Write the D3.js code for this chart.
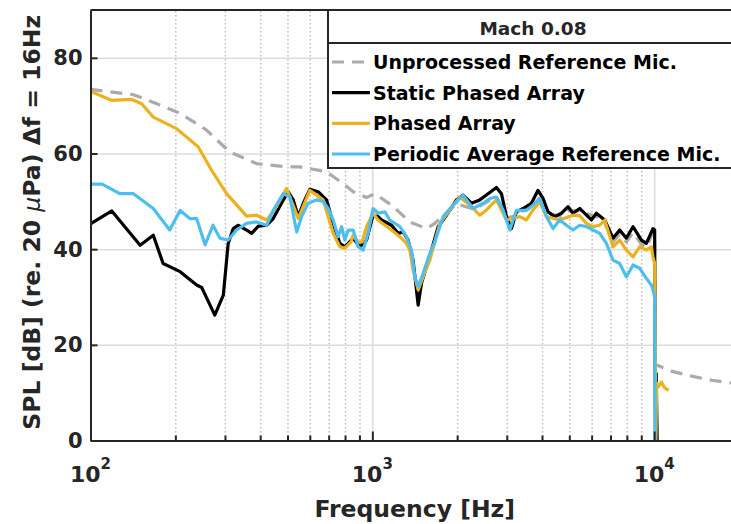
<!DOCTYPE html>
<html>

<head>
    <meta charset="utf-8" />
    <script src="https://d3js.org/d3.v7.min.js"></script>
    <style>
        body { margin: 0; background: #fff; }
        text { font-family: "DejaVu Sans", "Liberation Sans", Arial, sans-serif; font-weight: bold; fill: #262626; }
        .grid-major line { stroke: #dcdcdc; stroke-width: 1.5; }
        .grid-minor line { stroke: #bdbdbd; stroke-width: 1.5; stroke-dasharray: 1.5, 2.5; }
        .grid-major path, .grid-minor path { display: none; }
        .axis path, .axis line { stroke: #262626; stroke-width: 2; }
    </style>
</head>

<body>
    <script>
        // ---- data: [frequency Hz, SPL dB] ----
        const unprocessedRef = [
            [100, 73.4], [142, 72.3], [172, 70.4], [208, 68.4], [258, 64.9], [312, 60.3], [388, 57.9],
            [496, 57.2], [553, 57.2], [688, 56.2], [788, 53.7], [855, 52], [954, 50.8], [1021, 51.6],
            [1170, 49.2], [1358, 45.7], [1557, 44.3], [1666, 45.4], [1833, 47.5], [1989, 49.5],
            [2248, 48.5], [2405, 49], [2756, 51], [2991, 46.5], [3246, 47], [3426, 48], [3871, 50.5],
            [4202, 47.5], [4687, 46.8], [4948, 48], [5442, 48], [6237, 46.8], [6676, 45.5], [7144, 41.5],
            [7546, 43.2], [7968, 41.5], [8413, 43.5], [9010, 41], [9383, 40.3], [9901, 43.5], [10041, 42],
            [10080, 16], [10200, 15.8], [11500, 14.5], [13700, 13.4], [16000, 12.6], [20000, 11.8]
        ];

        const staticArray = [
            [100, 45.3], [119, 48], [150, 40.8], [167, 42.9], [181, 37], [208, 35.3], [238, 32.5], [248, 32],
            [276, 26.2], [296, 30.4], [308, 41.2], [321, 44.3], [334, 45], [358, 44], [373, 43.3], [394, 44.8],
            [422, 45], [445, 46.4], [476, 49.6], [503, 52], [524, 50.3], [546, 46.8], [569, 49.6], [600, 52.5],
            [642, 52], [688, 50.3], [726, 45.4], [767, 41.2], [799, 40.5], [855, 42.3], [903, 40.5], [954, 41.9],
            [1006, 47.1], [1048, 46.8], [1078, 46.1], [1170, 45], [1235, 43.3], [1286, 43.6], [1340, 41.9],
            [1395, 37.7], [1454, 28.3], [1495, 32.9], [1557, 36.3], [1622, 39.8], [1712, 44.7], [1833, 47.1],
            [1989, 50.3], [2099, 51.3], [2248, 49.6], [2405, 50.3], [2574, 51.6], [2756, 52.9], [2872, 51.6],
            [2991, 46.8], [3116, 44.3], [3246, 47.8], [3426, 48.5], [3669, 49.6], [3871, 52.3], [4034, 50.6],
            [4202, 47.8], [4438, 46.8], [4687, 47.5], [4948, 48.9], [5152, 47.5], [5442, 48.5], [5669, 47.5],
            [5989, 46.1], [6237, 47.5], [6676, 46.1], [7144, 42.3], [7546, 44], [7968, 42.3], [8413, 44.7],
            [9010, 41.9], [9383, 41.2], [9901, 44.3], [10041, 44], [10110, -5], [10170, 14], [10230, 3], [10280, -5]
        ];

        const phasedArray = [
            [100, 73], [119, 71.1], [140, 71.3], [152, 70.4], [167, 67.6], [202, 65.2], [241, 61.4], [269, 56.5],
            [304, 51.6], [358, 46.9], [388, 47.1], [422, 46.1], [457, 48.9], [496, 52.7], [546, 46.4], [600, 52.3],
            [669, 50.3], [726, 43.3], [767, 40.5], [799, 40.2], [840, 41.5], [855, 42.9], [890, 41.5], [920, 41.5],
            [954, 44.7], [1006, 47.5], [1048, 46.1], [1107, 45], [1170, 44], [1252, 42.6], [1322, 41.2], [1358, 39.8],
            [1395, 35.6], [1454, 31.5], [1514, 34.2], [1600, 37.7], [1736, 45.4], [1883, 48.2], [2043, 50.9],
            [2217, 49.2], [2405, 47.1], [2541, 48.2], [2756, 50.3], [2991, 46.1], [3334, 46.8], [3523, 46.1],
            [3717, 48.2], [3927, 49.9], [4147, 46.8], [4623, 46.1], [5152, 47.1], [5442, 47], [5750, 45.4],
            [6067, 44.7], [6410, 45], [6676, 46.1], [7144, 40.5], [7546, 41.9], [7968, 39.8], [8413, 38.4],
            [8884, 40.5], [9383, 39.8], [9772, 40.5], [9901, 38.4], [10041, 37], [10150, 0], [10200, 12],
            [10350, 11.2], [10600, 12.2], [10900, 11], [11250, 10.5]
        ];

        const periodicAvgRef = [
            [100, 53.6], [110, 53.6], [127, 51.6], [142, 51.6], [167, 48.5], [191, 44], [208, 48.1], [225, 46.4],
            [238, 46.4], [255, 40.9], [272, 45], [288, 42.3], [308, 41.9], [330, 44], [358, 45.4], [388, 45.7],
            [422, 45], [445, 48.1], [483, 51.6], [510, 50.9], [539, 43.6], [561, 46.8], [592, 49.6], [634, 50.3],
            [669, 50], [697, 48.5], [726, 46.1], [756, 42.6], [778, 44.7], [799, 41.9], [821, 44], [855, 44],
            [891, 40.5], [928, 39.8], [966, 43.3], [1006, 48.5], [1049, 47.5], [1108, 47.8], [1153, 46.1],
            [1252, 44.7], [1322, 42.6], [1377, 39.8], [1415, 34.2], [1454, 32.2], [1514, 34.9], [1600, 39.1],
            [1666, 41.5], [1783, 46.8], [1934, 49.2], [2099, 51.3], [2278, 48.5], [2471, 49.6], [2611, 50.6],
            [2756, 50.9], [2910, 48.2], [3074, 44], [3246, 48.1], [3523, 48.1], [3717, 49.2], [3927, 50.6],
            [4147, 46.8], [4377, 44.3], [4623, 46.1], [4883, 45], [5152, 44], [5442, 45], [5750, 44.7],
            [6067, 44], [6410, 43.3], [6770, 41.2], [7144, 37.7], [7546, 37], [7968, 34.2], [8413, 36.7],
            [8884, 36], [9383, 33.9], [9772, 32.5], [9901, 31.5], [10041, 30], [10100, -5]
        ];

        const legendLabels = ['Unprocessed Reference Mic.', 'Static Phased Array', 'Phased Array', 'Periodic Average Reference Mic.'];
        const legendTitle = 'Mach 0.08';
        const yTicks = [0, 20, 40, 60, 80];
        const xDecades = [100, 1000, 10000];
        const xMinor = [200, 300, 400, 500, 600, 700, 800, 900, 2000, 3000, 4000, 5000, 6000, 7000, 8000, 9000];

        // ---- layout ----
        const width = 731;
        const height = 524;
        const plot = { left: 90.5, top: 10, right: 739, bottom: 440.5 };

        const svg = d3.select('body')
            .append('svg')
            .attr('width', width)
            .attr('height', height);

        const x = d3.scaleLog().domain([100, 20000]).range([plot.left, plot.right]);
        const y = d3.scaleLinear().domain([0, 90]).range([plot.bottom, plot.top]);
        const plotH = plot.bottom - plot.top;

        // grid
        svg.append('g')
            .attr('class', 'grid-minor')
            .attr('transform', `translate(0,${plot.bottom})`)
            .call(d3.axisBottom(x).tickValues(xMinor).tickSize(-plotH).tickFormat(''));
        svg.append('g')
            .attr('class', 'grid-major')
            .attr('transform', `translate(0,${plot.bottom})`)
            .call(d3.axisBottom(x).tickValues(xDecades.slice(1)).tickSize(-plotH).tickFormat(''));
        svg.append('g')
            .attr('class', 'grid-major')
            .attr('transform', `translate(${plot.left},0)`)
            .call(d3.axisLeft(y).tickValues(yTicks.slice(1)).tickSize(-(plot.right - plot.left)).tickFormat(''));

        // data lines
        svg.append('clipPath').attr('id', 'clip')
            .append('rect')
            .attr('x', plot.left).attr('y', plot.top)
            .attr('width', plot.right - plot.left).attr('height', plotH);

        const line = d3.line().x(d => x(d[0])).y(d => y(d[1]));
        const series = [
            { data: unprocessedRef, color: '#ababab', dash: '12,8' },
            { data: staticArray, color: '#000000', dash: null },
            { data: phasedArray, color: '#EDB120', dash: null },
            { data: periodicAvgRef, color: '#4DBEEE', dash: null }
        ];

        const lines = svg.append('g').attr('clip-path', 'url(#clip)');
        series.forEach(s => {
            lines.append('path')
                .datum(s.data)
                .attr('d', line)
                .attr('fill', 'none')
                .attr('stroke', s.color)
                .attr('stroke-width', 3.2)
                .attr('stroke-linejoin', 'round')
                .attr('stroke-dasharray', s.dash);
        });

        // axes (ticks pointing inward)
        const xAxis = svg.append('g')
            .attr('class', 'axis')
            .attr('transform', `translate(0,${plot.bottom})`)
            .call(d3.axisBottom(x).tickValues(xMinor.concat(xDecades)).tickSizeInner(-5).tickSizeOuter(0).tickFormat(''));
        xAxis.selectAll('.tick line').filter(d => xDecades.includes(d)).attr('y2', -9);

        svg.append('g')
            .attr('class', 'axis')
            .attr('transform', `translate(${plot.left},0)`)
            .call(d3.axisLeft(y).tickValues(yTicks).tickSizeInner(-7).tickSizeOuter(0).tickFormat(''));

        svg.append('line')
            .attr('x1', plot.left).attr('x2', plot.right)
            .attr('y1', plot.top).attr('y2', plot.top)
            .attr('stroke', '#262626').attr('stroke-width', 2);

        // y tick labels
        svg.append('g').selectAll('text')
            .data(yTicks)
            .enter()
            .append('text')
            .attr('x', plot.left - 8)
            .attr('y', d => y(d))
            .attr('dy', '0.36em')
            .attr('text-anchor', 'end')
            .style('font-size', '21px')
            .text(d => d);

        // x tick labels: 10^n
        const xLabels = svg.append('g').selectAll('text')
            .data(xDecades)
            .enter()
            .append('text')
            .attr('x', d => x(d))
            .attr('y', 482)
            .attr('text-anchor', 'middle')
            .style('font-size', '22px');
        xLabels.append('tspan').text('10');
        xLabels.append('tspan')
            .attr('dy', -13)
            .style('font-size', '15px')
            .text(d => Math.round(Math.log10(d)));

        // axis labels
        svg.append('text')
            .attr('x', (plot.left + plot.right) / 2)
            .attr('y', 517)
            .attr('text-anchor', 'middle')
            .style('font-size', '23.5px')
            .text('Frequency [Hz]');

        const yLabel = svg.append('text')
            .attr('transform', `translate(40,${(plot.top + plot.bottom) / 2 - 3}) rotate(-90)`)
            .attr('text-anchor', 'middle')
            .style('font-size', '23.5px');
        yLabel.append('tspan').text('SPL [dB] (re. 20 ');
        yLabel.append('tspan').style('font-style', 'italic').style('font-weight', 'normal').text('\u03bc');
        yLabel.append('tspan').text('Pa) \u0394f = 16Hz');

        // legend
        const legend = { left: 328, top: 10, width: 410, height: 158, titleH: 33 };
        const lg = svg.append('g');
        lg.append('rect')
            .attr('x', legend.left).attr('y', legend.top)
            .attr('width', legend.width).attr('height', legend.height)
            .attr('fill', '#fff')
            .attr('stroke', '#262626')
            .attr('stroke-width', 2);
        lg.append('line')
            .attr('x1', legend.left).attr('x2', legend.left + legend.width)
            .attr('y1', legend.top + legend.titleH).attr('y2', legend.top + legend.titleH)
            .attr('stroke', '#262626').attr('stroke-width', 2);
        lg.append('text')
            .attr('x', legend.left + legend.width / 2)
            .attr('y', legend.top + 25)
            .attr('text-anchor', 'middle')
            .style('font-size', '18.5px')
            .text(legendTitle);

        const rowY = d3.scalePoint().domain(legendLabels).range([62, 154]);
        legendLabels.forEach((label, i) => {
            const s = series[i];
            lg.append('line')
                .attr('x1', legend.left + 4).attr('x2', legend.left + 42)
                .attr('y1', rowY(label)).attr('y2', rowY(label))
                .attr('stroke', s.color)
                .attr('stroke-width', 3.2)
                .attr('stroke-dasharray', s.dash);
            lg.append('text')
                .attr('x', legend.left + 45)
                .attr('y', rowY(label) + 7)
                .style('font-size', '19px')
                .style('fill', '#000')
                .text(label);
        });
    </script>
</body>

</html>
